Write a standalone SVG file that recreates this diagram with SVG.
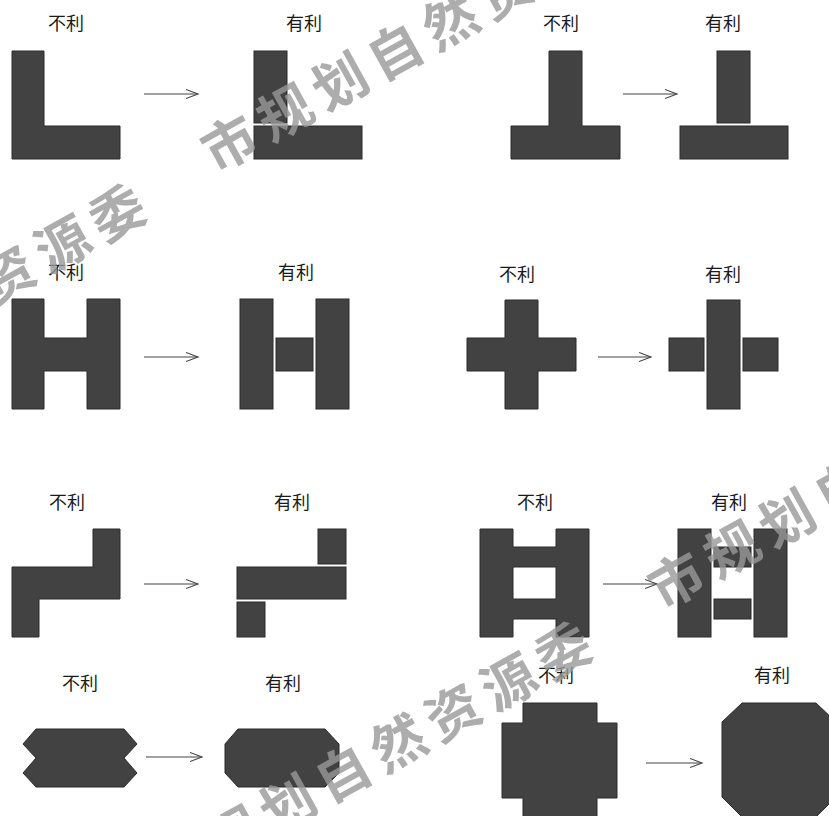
<svg xmlns="http://www.w3.org/2000/svg" width="829" height="816" viewBox="0 0 829 816">
<defs>
<style>
.lbl{font-family:"Noto Sans CJK SC","Noto Sans",sans-serif;font-size:18px;fill:#1a1a1a;text-anchor:middle}
.sh{fill:#424242;stroke:#2b2b2b;stroke-width:1}
.ar{stroke:#444;stroke-width:1.1;fill:none}
.wm{font-family:"Noto Sans CJK SC",sans-serif;font-size:54px;font-weight:700;fill:#999;fill-opacity:0.8;letter-spacing:9px;dominant-baseline:central}
</style>
<marker id="ah" markerUnits="userSpaceOnUse" markerWidth="14" markerHeight="12" refX="12" refY="5.5" orient="auto" viewBox="0 0 14 12">
<path d="M0,1 L12,5.5 L0,10" fill="none" stroke="#444" stroke-width="1.1"/>
</marker>
</defs>
<rect width="829" height="816" fill="#fff"/>

<g id="n1a"><text class="lbl" x="66" y="30">不利</text>
<polygon class="sh" points="12,51 44,51 44,126 120,126 120,159 12,159"/></g>
<g id="n1b"><text class="lbl" x="304" y="30">有利</text>
<rect class="sh" x="254" y="51" width="33" height="72"/>
<rect class="sh" x="254" y="126" width="108" height="33"/></g>
<g id="n2a"><text class="lbl" x="561" y="30">不利</text>
<polygon class="sh" points="549,51 582,51 582,126 620,126 620,159 511,159 511,126 549,126"/></g>
<g id="n2b"><text class="lbl" x="723" y="30">有利</text>
<rect class="sh" x="717" y="51" width="33" height="72"/>
<rect class="sh" x="680" y="126" width="108" height="33"/></g>

<g id="n3a"><text class="lbl" x="66" y="279">不利</text>
<polygon class="sh" points="12,299 44,299 44,338 87,338 87,299 120,299 120,409 87,409 87,371 44,371 44,409 12,409"/></g>
<g id="n3b"><text class="lbl" x="296" y="279">有利</text>
<rect class="sh" x="240" y="299" width="33" height="110"/>
<rect class="sh" x="316" y="299" width="33" height="110"/>
<rect class="sh" x="276" y="338" width="37" height="33"/></g>
<g id="n4a"><text class="lbl" x="517" y="281">不利</text>
<polygon class="sh" points="505,300 538,300 538,338 576,338 576,371 538,371 538,409 505,409 505,371 467,371 467,338 505,338"/></g>
<g id="n4b"><text class="lbl" x="723" y="281">有利</text>
<rect class="sh" x="707" y="300" width="33" height="109"/>
<rect class="sh" x="669" y="338" width="35" height="33"/>
<rect class="sh" x="743" y="338" width="35" height="33"/></g>

<g id="n5a"><text class="lbl" x="67" y="509">不利</text>
<polygon class="sh" points="93,529 120,529 120,599 39,599 39,637 12,637 12,567 93,567"/></g>
<g id="n5b"><text class="lbl" x="292" y="509">有利</text>
<rect class="sh" x="318" y="529" width="28" height="35"/>
<rect class="sh" x="237" y="567" width="109" height="32"/>
<rect class="sh" x="237" y="602" width="28" height="35"/></g>
<g id="n6a"><text class="lbl" x="535" y="509">不利</text>
<path class="sh" fill-rule="evenodd" d="M480,529 L513,529 L513,547 L556,547 L556,529 L589,529 L589,637 L556,637 L556,619 L513,619 L513,637 L480,637 Z M513,567 L556,567 L556,599 L513,599 Z"/></g>
<g id="n6b"><text class="lbl" x="729" y="509">有利</text>
<rect class="sh" x="678" y="529" width="33" height="108"/>
<rect class="sh" x="754" y="529" width="33" height="108"/>
<rect class="sh" x="714" y="547" width="37" height="20"/>
<rect class="sh" x="714" y="599" width="37" height="20"/></g>

<g id="n7a"><text class="lbl" x="80" y="690">不利</text>
<polygon class="sh" points="36,729 124,729 137,744 124,758 137,773 124,787 36,787 23,773 36,758 23,744"/></g>
<g id="n7b"><text class="lbl" x="283" y="690">有利</text>
<polygon class="sh" points="238,729 325,729 339,744 339,773 325,787 238,787 225,773 225,744"/></g>
<g id="n8a"><text class="lbl" x="556" y="682">不利</text>
<polygon class="sh" points="523,703 597,703 597,723 617,723 617,798 597,798 597,818 523,818 523,798 502,798 502,723 523,723"/></g>
<g id="n8b"><text class="lbl" x="772" y="682">有利</text>
<polygon class="sh" points="742,703 816,703 836,722 836,797 816,817 742,817 722,797 722,722"/></g>

<g id="connectors">
<line class="ar" x1="144" y1="94" x2="198" y2="94" marker-end="url(#ah)"/>
<line class="ar" x1="623" y1="94" x2="677" y2="94" marker-end="url(#ah)"/>
<line class="ar" x1="144" y1="357" x2="198" y2="357" marker-end="url(#ah)"/>
<line class="ar" x1="598" y1="357" x2="651" y2="357" marker-end="url(#ah)"/>
<line class="ar" x1="144" y1="584" x2="198" y2="584" marker-end="url(#ah)"/>
<line class="ar" x1="603" y1="584" x2="657" y2="584" marker-end="url(#ah)"/>
<line class="ar" x1="146" y1="757" x2="202" y2="757" marker-end="url(#ah)"/>
<line class="ar" x1="646" y1="763" x2="702" y2="763" marker-end="url(#ah)"/>
</g>

<g id="watermark">
<text class="wm" transform="translate(228,140) rotate(-29)" x="-27">市规划自然资源委</text>
<text class="wm" transform="translate(-270,424) rotate(-29)" x="-27">市规划自然资源委</text>
<text class="wm" transform="translate(675,577) rotate(-29)" x="-27">市规划自然资源委</text>
<text class="wm" transform="translate(176,862) rotate(-29)" x="-27">市规划自然资源委</text>
</g>
</svg>
